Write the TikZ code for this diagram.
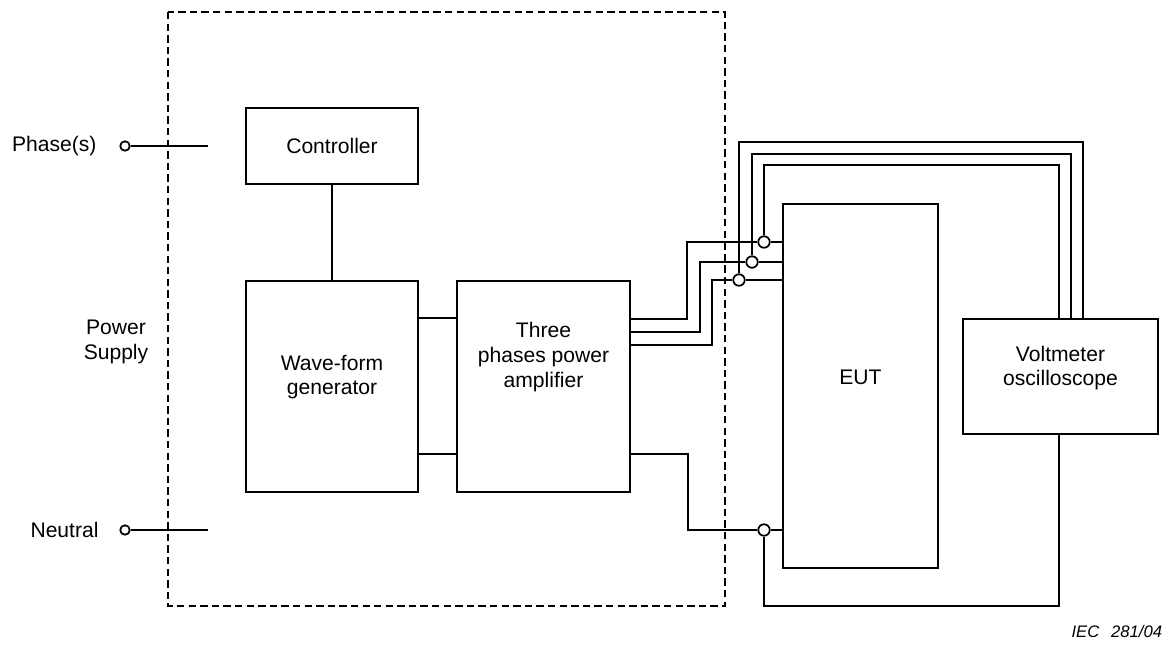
\documentclass[tikz,border=0pt]{standalone}
\usepackage{fontspec}
\setmainfont{Liberation Sans}
\usetikzlibrary{positioning}

\begin{document}
\begin{tikzpicture}[x=0.02cm, y=-0.02cm, line width=1pt,
    font=\fontsize{12}{14}\selectfont,
    block/.style={draw, inner sep=0, align=center},
    txt/.style={align=center, inner sep=0},
    terminal/.style={circle, draw, fill=white, inner sep=0, minimum size=0.23cm},
    inlet/.style={circle, draw, fill=white, inner sep=0, minimum size=0.19cm},
    psu/.style={line width=1.1pt, dash pattern=on 4.2pt off 2.4pt}]
    \useasboundingbox (0,0) rectangle (1171,646);
    \draw[psu] (168,12) rectangle (725,606);

    % blocks
    \node[block, minimum width=3.44cm, minimum height=1.52cm] (ctrl) at (332,146) {Controller};
    \node[block, minimum width=3.44cm, minimum height=4.22cm] (wave) at (332,386.5) {};
    \node[txt] (wavetxt) at (332,377) {Wave-form\\generator};
    \node[block, minimum width=3.46cm, minimum height=4.22cm] (amp) at (543.5,386.5) {};
    \node[txt] (amptxt) at (543.5,357) {Three\\phases power\\amplifier};
    \node[block, minimum width=3.1cm, minimum height=7.28cm] (eut) at (860.5,386) {};
    \node[txt] (euttxt) at (860.5,377) {EUT};
    \node[block, minimum width=3.9cm, minimum height=2.3cm] (volt) at (1060.5,376.5) {};
    \node[txt] (volttxt) at (1060.5,368) {Voltmeter\\oscilloscope};
    \node[txt] (psutxt) at (116,342) {Power\\Supply};

    % supply inputs
    \node[inlet] (inp) at (125,146) {};
    \node[inlet] (inn) at (125,530) {};
    \node[txt, left=0.44cm of inp] (phlbl) {Phase(s)};
    \node[txt, left=0.4cm of inn] (nlbl) {Neutral};
    \coordinate (inpend) at (208,146);
    \coordinate (innend) at (208,530);
    \draw (inp) -- (inpend);
    \draw (inn) -- (innend);

    % measuring points
    \node[terminal] (o1) at (764,242) {};
    \node[terminal] (o2) at (752,262) {};
    \node[terminal] (o3) at (739,280) {};
    \node[terminal] (on) at (764,530) {};

    \draw (ctrl) -- (wave);
    \draw (wave.east |- 0,318) -- (amp.west |- 0,318);
    \draw (wave.east |- 0,454) -- (amp.west |- 0,454);

    \draw (amp.east |- 0,319) -| (687,242) -- (o1) -- (o1 -| eut.west);
    \draw (amp.east |- 0,332) -| (700,262) -- (o2) -- (o2 -| eut.west);
    \draw (amp.east |- 0,345) -| (712,280) -- (o3) -- (o3 -| eut.west);
    \draw (amp.east |- 0,454) -| (688,530) -- (on) -- (on -| eut.west);

    \draw (o1) |- (1059,165) -- (1059,165 |- volt.north);
    \draw (o2) |- (1071,154) -- (1071,154 |- volt.north);
    \draw (o3) |- (1083,142) -- (1083,142 |- volt.north);
    \draw (on) |- (1059,606) -- (1059,606 |- volt.south);

    \node[anchor=east, inner sep=0, font=\fontsize{9.5}{11}\selectfont\itshape] (ieclbl) at (1163,632) {IEC\hspace{0.7em}281/04};
\end{tikzpicture}
\end{document}
